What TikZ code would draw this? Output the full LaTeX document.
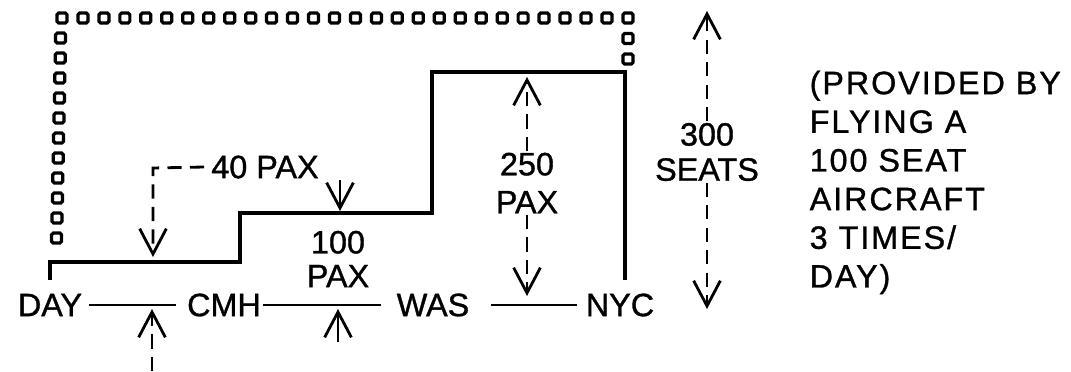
\documentclass[tikz,border=0pt]{standalone}
\usepackage{fontspec}
\setmainfont{Liberation Sans}
\newfontfamily\letterfont[FakeBold=1.0]{Liberation Sans}
\usetikzlibrary{arrows.meta}

\begin{document}
\begin{tikzpicture}[
  x=0.025cm, y=-0.025cm,
  every node/.style={font=\letterfont\fontsize{23}{27}\selectfont, inner sep=1pt, align=center},
  seat/.style={draw, line width=2.3pt, rounded corners=1.2pt},
  stepline/.style={line width=2.6pt},
  route/.style={line width=2pt},
  tip/.style={line width=2pt, -{Straight Barb[length=18pt, width=19pt]}},
  dashtip/.style={tip, dash pattern=on 10pt off 6pt},
]
\useasboundingbox (0,0) rectangle (1071,371);

% seats offered (dotted)
\foreach \i in {0,...,27}
  \draw[seat] ({62+\i*20.96-5},{18-5}) rectangle +(10,10);
\foreach \i in {1,...,11}
  \draw[seat] ({61-\i*0.4-5},{18+\i*20-5}) rectangle +(10,10);
\foreach \i in {1,2}
  \draw[seat] ({628-5},{18+\i*20.5-5}) rectangle +(10,10);

% passengers on board
\draw[stepline] (50,280) |- (240,262) |- (432,213) |- (625,72) -- (625,280);

% stations
\node (day) at (50,305) {DAY};
\node (cmh) at (224,305) {CMH};
\node (was) at (433,305) {WAS};
\node (nyc) at (620,305) {NYC};
\draw[route, shorten <=4pt, shorten >=7pt] (day) -- (cmh);
\draw[route, shorten >=10pt] (cmh) -- (was);
\draw[route, shorten <=14pt, shorten >=5pt] (was) -- (nyc);

% loads
\node (pax40) at (265,167) {40 PAX};
\coordinate (c40) at (153,168);
\coordinate (t40) at (153,257);
\draw[dashtip] ([xshift=-4pt]pax40.west) -- (c40) -- (t40);
\coordinate (a40) at (340,180);
\coordinate (b40) at (340,211);
\draw[tip] (a40) -- (b40);

\coordinate (pin) at (152,371);
\coordinate (pintip) at (152,309);
\draw[dashtip] (pin) -- (pintip);

\node (pax100) at (338,259) {100\\[-3pt]PAX};
\coordinate (a100) at (338,342);
\coordinate (b100) at (338,309);
\draw[tip] (a100) -- (b100);

\node (pax250) at (527,183) {250\\PAX};
\coordinate (top250) at (527,77);
\coordinate (bot250) at (527,296);
\draw[dashtip] (pax250.north) -- (top250);
\draw[dashtip] (pax250.south) -- (bot250);

\node (seats300) at (707,152) {300\\[-2pt]SEATS};
\coordinate (top300) at (707,11);
\coordinate (bot300) at (707,309);
\draw[dashtip] (seats300.north) -- (top300);
\draw[dashtip] (seats300.south) -- (bot300);

\node[anchor=north west, align=left, font=\letterfont\fontsize{23}{27.5}\selectfont\addfontfeature{LetterSpace=6}] (note) at (808,69)
  {(PROVIDED BY\\FLYING A\\100 SEAT\\AIRCRAFT\\3 TIMES/\\DAY)};
\end{tikzpicture}
\end{document}
